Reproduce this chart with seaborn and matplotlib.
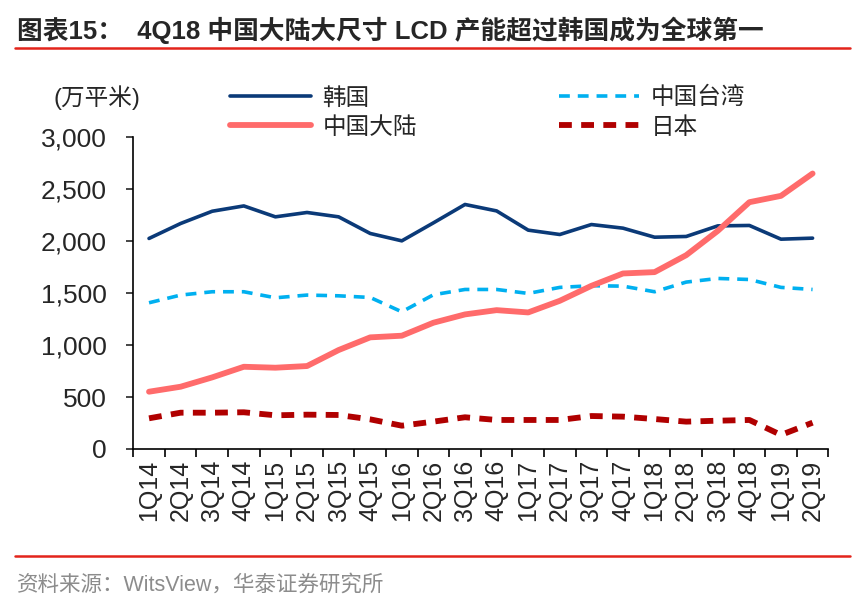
import seaborn as sns
import matplotlib.pyplot as plt
from matplotlib.lines import Line2D
from matplotlib.ticker import FuncFormatter, FixedLocator
import pandas as pd
import numpy as np

quarters = ['1Q14', '2Q14', '3Q14', '4Q14', '1Q15', '2Q15', '3Q15', '4Q15',
            '1Q16', '2Q16', '3Q16', '4Q16', '1Q17', '2Q17', '3Q17', '4Q17',
            '1Q18', '2Q18', '3Q18', '4Q18', '1Q19', '2Q19']
korea = [2026, 2170, 2288, 2339, 2234, 2276, 2234, 2074, 2003, 2176, 2353,
         2291, 2106, 2064, 2160, 2125, 2038, 2045, 2147, 2151, 2019, 2029]
taiwan = [1407, 1481, 1513, 1513, 1455, 1481, 1474, 1458, 1320, 1484, 1535,
          1535, 1497, 1555, 1571, 1567, 1513, 1606, 1641, 1631, 1555, 1535]
mainland = [551, 599, 689, 791, 782, 798, 952, 1074, 1090, 1215, 1295,
            1336, 1314, 1426, 1570, 1689, 1702, 1865, 2099, 2375, 2436, 2651]
japan = [295, 349, 349, 353, 324, 330, 327, 285, 224, 263, 305,
         279, 279, 279, 317, 311, 288, 263, 272, 279, 135, 253]

sns.set_style('ticks')
plt.rcParams['font.family'] = ['Liberation Sans', 'Noto Sans CJK SC', 'DejaVu Sans']

fig = plt.figure(figsize=(8.54, 6.1), dpi=100)
ax = fig.add_axes([0.156, 0.264, 0.814, 0.511])

x = np.arange(len(quarters))
sns.lineplot(x=x, y=korea, ax=ax, color='#0B3A78', lw=2.6)
sns.lineplot(x=x, y=taiwan, ax=ax, color='#00B0F0', lw=2.6, linestyle=(0, (3, 2.2)))
sns.lineplot(x=x, y=mainland, ax=ax, color='#FF6B6B', lw=4.2)
sns.lineplot(x=x, y=japan, ax=ax, color='#B00000', lw=4.2, linestyle=(0, (2.2, 1.6)))

ax.set_xlim(-0.5, len(quarters) - 0.5)
ax.set_ylim(0, 3000)
ax.set_yticks([0, 500, 1000, 1500, 2000, 2500, 3000])
ax.yaxis.set_major_formatter(FuncFormatter(lambda v, p: f'{int(v):,}'))
ax.set_xticks(x)
ax.set_xticklabels(quarters, rotation=90)
ax.xaxis.set_minor_locator(FixedLocator(np.arange(-0.5, len(quarters), 1)))
ax.tick_params(axis='x', which='major', length=0, pad=8, labelsize=18)
ax.tick_params(axis='x', which='minor', length=6, width=1.2, color='black')
ax.tick_params(axis='y', length=5, width=1.2, labelsize=19, pad=14)
for s in ['top', 'right']:
    ax.spines[s].set_visible(False)
for s in ['left', 'bottom']:
    ax.spines[s].set_linewidth(1.2)
    ax.spines[s].set_color('black')

handles = [
    Line2D([], [], color='#0B3A78', lw=2.6),
    Line2D([], [], color='#FF6B6B', lw=4.2),
    Line2D([], [], color='#00B0F0', lw=2.6, linestyle=(0, (3, 2.2))),
    Line2D([], [], color='#B00000', lw=4.2, linestyle=(0, (2.2, 1.6))),
]
labels = ['韩国', '中国大陆', '中国台湾', '日本']
fig.legend(handles, labels, ncol=2, frameon=False, fontsize=17,
           loc='upper left', bbox_to_anchor=(0.245, 0.892),
           handlelength=3.4, handletextpad=0.5, columnspacing=6.0,
           labelspacing=0.3)

fig.text(0.063, 0.84, '(万平米)', fontsize=17, ha='left', va='center')

fig.text(0.02, 0.95, '图表15：  4Q18 中国大陆大尺寸 LCD 产能超过韩国成为全球第一',
         fontsize=18.5, fontweight='bold', ha='left', va='center')
fig.add_artist(Line2D([0.018, 0.995], [0.921, 0.921], color='#E3241B', lw=1.8))
fig.add_artist(Line2D([0.018, 0.995], [0.088, 0.088], color='#E3241B', lw=1.8))
fig.text(0.02, 0.04, '资料来源：WitsView，华泰证券研究所', fontsize=15.5,
         color='#8C8C8C', ha='left', va='center')

fig.savefig('out.png', dpi=100)
